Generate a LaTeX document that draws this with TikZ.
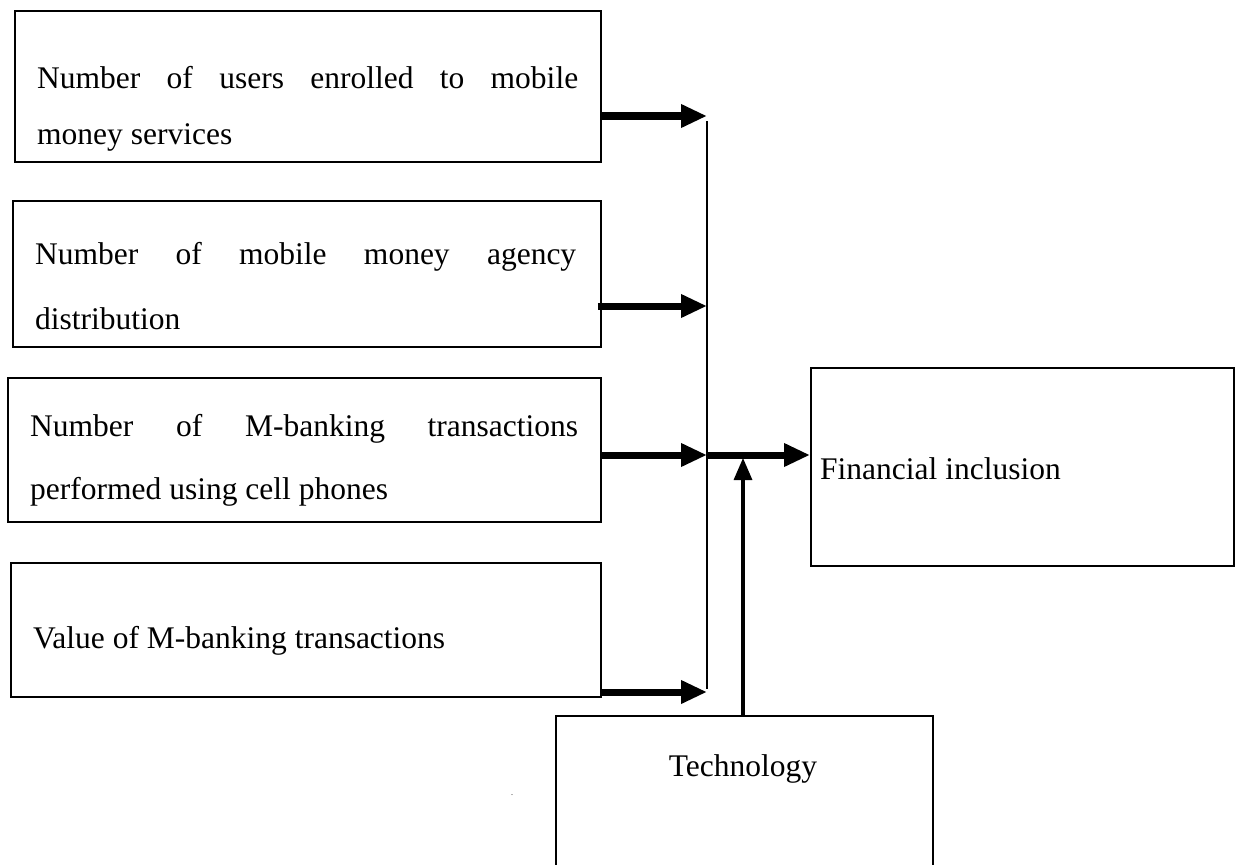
\documentclass[tikz,border=0pt]{standalone}
\usepackage{fontspec}
\setmainfont{Liberation Serif}
\usetikzlibrary{arrows.meta}
\begin{document}
\begin{tikzpicture}[x=1pt,y=-1pt,
  box/.style={draw, line width=1.8pt, inner sep=0pt, anchor=north west},
  txt/.style={inner sep=0pt, anchor=base west, font=\fontsize{31.5}{36}\selectfont},
  feed/.style={line width=7pt, -{Triangle[length=26pt,width=22pt]}},
  thin/.style={line width=2.2pt},
  up/.style={line width=3.2pt, -{Triangle[length=22pt,width=18pt]}}]
\useasboundingbox (0,0) rectangle (1238,864);
% input boxes
\node[box, minimum width=586pt, minimum height=151pt] (b1) at (14,10) {};
\node[box, minimum width=588pt, minimum height=146pt] (b2) at (12,200) {};
\node[box, minimum width=593pt, minimum height=144pt] (b3) at (7,377) {};
\node[box, minimum width=590pt, minimum height=134pt] (b4) at (10,562) {};
\node[box, minimum width=423pt, minimum height=198pt] (fi) at (810,367) {};
\node[box, minimum width=377pt, minimum height=170pt] (te) at (555,715) {};
% texts
\node[txt] (t1a) at (37,89) {\makebox[541pt][s]{Number of users enrolled to mobile}};
\node[txt] (t1b) at (37,144) {money services};
\node[txt] (t2a) at (35,264) {\makebox[541pt][s]{Number of mobile money agency}};
\node[txt] (t2b) at (35,329) {distribution};
\node[txt] (t3a) at (30,436) {\makebox[548pt][s]{Number of M-banking transactions}};
\node[txt] (t3b) at (30,499) {performed using cell phones};
\node[txt] (t4a) at (33,648) {Value of M-banking transactions};
\node[txt] (tfi) at (820,479) {Financial inclusion};
\node[txt, anchor=base] (tte) at (743,776) {Technology};
\node[inner sep=0pt, font=\fontsize{8}{8}\selectfont] (dot) at (512,795) {.};
% junction coordinates
\coordinate (j1) at (707,116);
\coordinate (j2) at (707,306);
\coordinate (j3) at (707,455);
\coordinate (j4) at (707,692);
\coordinate (jt) at (743,458);
% arrows
\draw[feed] (b1.east |- j1) -- (j1);
\draw[feed] ([xshift=-4pt]b2.east |- j2) -- (j2);
\draw[feed] (b3.east |- j3) -- (j3);
\draw[feed] (b4.east |- j4) -- (j4);
\draw[feed] (j3) -- (fi.west |- j3);
\draw[thin] ([yshift=-5pt]j1) -- ([yshift=3pt]j4);
\draw[up] (te.north -| jt) -- (jt);
\end{tikzpicture}
\end{document}
